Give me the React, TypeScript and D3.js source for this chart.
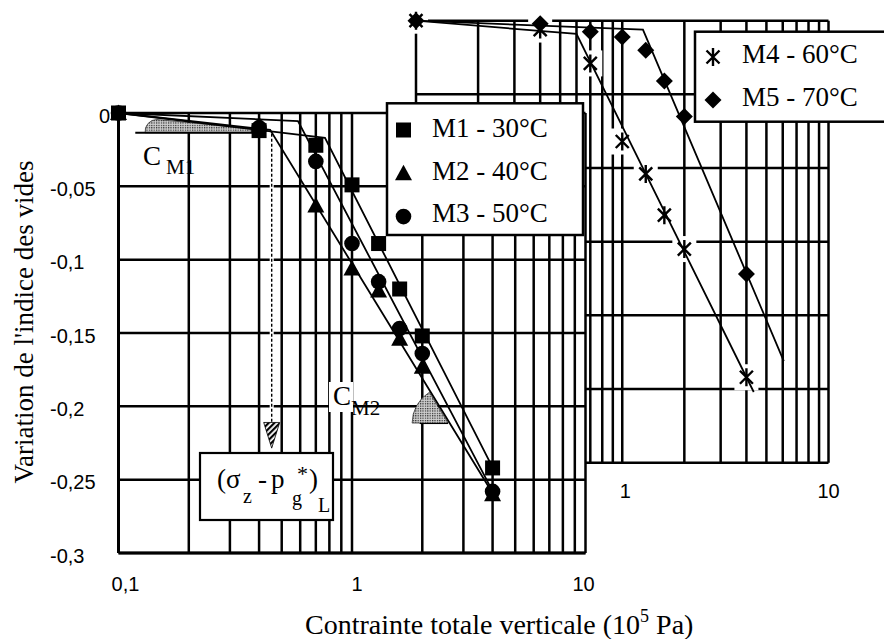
import React from "react";
import * as d3 from "d3";

// load steps (10^5 Pa)
const loads = [0.1, 0.4, 0.7, 1, 1.3, 1.6, 2, 4];
// void ratio variation, main chart
const m1 = [0, -0.012, -0.022, -0.049, -0.089, -0.12, -0.152, -0.242];
const m2 = [0, -0.008, -0.063, -0.106, -0.121, -0.154, -0.173, -0.26];
const m3 = [0, -0.01, -0.033, -0.089, -0.115, -0.147, -0.164, -0.258];
// inset chart
const m4 = [0, -0.006, -0.029, -0.082, -0.104, -0.132, -0.155, -0.242];
const m5 = [0, -0.002, -0.0075, -0.011, -0.02, -0.041, -0.065, -0.172];

// bilinear fits (x, y)
const fitM1x = [0.1, 0.766, 4.1];
const fitM1y = [0, -0.017, -0.245];
const fitM2x = [0.1, 0.446, 4.1];
const fitM2y = [0, -0.0115, -0.262];
const fitM3x = [0.1, 0.587, 4.1];
const fitM3y = [0, -0.0055, -0.261];
const fitM4x = [0.1, 0.6, 4.34];
const fitM4y = [0, -0.009, -0.252];
const fitM5x = [0.1, 1.26, 6.07];
const fitM5y = [0, -0.006, -0.231];

const yTicks = [0, -0.05, -0.1, -0.15, -0.2, -0.25, -0.3];
const yTickLabels = ["0", "-0,05", "-0,1", "-0,15", "-0,2", "-0,25", "-0,3"];
const xTicks = [0.1, 1, 10];
const xTickLabels = ["0,1", "1", "10"];
const insetTicks = [1, 10];
const insetTickLabels = ["1", "10"];
const legendMain = ["M1 - 30°C", "M2 - 40°C", "M3 - 50°C"];
const legendInset = ["M4 - 60°C", "M5 - 70°C"];

const serif = "'Liberation Serif', 'Times New Roman', serif";
const sans = "'Liberation Sans', Arial, sans-serif";

function Marker({ kind, cx, cy }: { kind: string; cx: number; cy: number }) {
  if (kind === "square")
    return <rect x={cx - 7.5} y={cy - 7.5} width={15} height={15} fill="#000" />;
  if (kind === "triangle")
    return <path d={`M${cx},${cy - 8.5}L${cx + 8.5},${cy + 7}L${cx - 8.5},${cy + 7}Z`} fill="#000" />;
  if (kind === "circle") return <circle cx={cx} cy={cy} r={7.8} fill="#000" />;
  if (kind === "diamond")
    return <path d={`M${cx},${cy - 8.5}L${cx + 8.5},${cy}L${cx},${cy + 8.5}L${cx - 8.5},${cy}Z`} fill="#000" />;
  return (
    <path
      d={`M${cx - 6.5},${cy - 6.5}L${cx + 6.5},${cy + 6.5}M${cx - 6.5},${cy + 6.5}L${cx + 6.5},${cy - 6.5}M${cx},${cy - 9}L${cx},${cy + 9}`}
      stroke="#000"
      strokeWidth={2.4}
      fill="none"
    />
  );
}

export default function App() {
  const x = d3.scaleLog().domain([0.1, 10]).range([118.5, 585.5]);
  const y = d3.scaleLinear().domain([-0.3, 0]).range([553, 113]);
  const xi = d3.scaleLog().domain([0.1, 10]).range([416, 828.5]);
  const yi = d3.scaleLinear().domain([-0.3, 0]).range([462.7, 20.7]);

  const path = (sx: any, sy: any, xs: number[], ys: number[]) =>
    d3.line<number>().x((_, i) => sx(xs[i])).y((d) => sy(d))(ys) || "";

  const mainSeries = [
    { vals: m3, kind: "circle" },
    { vals: m2, kind: "triangle" },
    { vals: m1, kind: "square" },
  ];
  const insetSeries = [
    { vals: m5, kind: "diamond" },
    { vals: m4, kind: "asterisk" },
  ];

  const grid = 2.5;

  // C_M2 angle sector at the M2 fit line
  const cm2x = x(2.58);
  const cm2y = y(-0.2114);
  const dx = x(fitM2x[2]) - x(fitM2x[1]);
  const dy = y(fitM2y[2]) - y(fitM2y[1]);
  const len = Math.hypot(dx, dy);
  const r2 = 36;
  const cm2Path = `M${cm2x},${cm2y}L${cm2x - r2},${cm2y}A${r2},${r2} 0 0 1 ${cm2x - (dx / len) * r2},${cm2y - (dy / len) * r2}Z`;

  // C_M1 wedge
  const hY = y(-0.0135);
  const w0 = x(0.118);
  const w1 = x(0.13);
  const w2 = x(0.146);
  const w3 = x(0.384);
  const cm1Path = `M${w1},${hY}A12,12 0 0 1 ${w2},${y(-0.0044)}L${w3},${y(-0.0109)}L${w3},${hY}Z`;

  const arrowX = x(0.453);

  return (
    <svg width={884} height={639} style={{ position: "absolute", left: 0, top: 0, background: "#fff" }}>
      <defs>
        <pattern id="stip" width={2.4} height={2.4} patternUnits="userSpaceOnUse">
          <rect width={2.4} height={2.4} fill="#d0d0d0" />
          <rect width={1.2} height={1.2} fill="#222" />
        </pattern>
        <pattern id="hatch" width={4} height={4} patternUnits="userSpaceOnUse" patternTransform="rotate(45)">
          <rect width={4} height={4} fill="#fff" />
          <rect width={2.2} height={4} fill="#000" />
        </pattern>
      </defs>
      <rect width={884} height={639} fill="#fff" />

      {/* inset chart */}
      <g>
        <rect x={xi(0.1)} y={yi(0)} width={xi(10) - xi(0.1)} height={yi(-0.3) - yi(0)} fill="#fff" />
        {yTicks.map((t) => (
          <line key={"ih" + t} x1={xi(0.1)} x2={xi(10)} y1={yi(t)} y2={yi(t)} stroke="#000" strokeWidth={grid} />
        ))}
        {xi.ticks().map((t) => (
          <line key={"iv" + t} x1={xi(t)} x2={xi(t)} y1={yi(0)} y2={yi(-0.3)} stroke="#000" strokeWidth={grid} />
        ))}
        {insetTicks.map((t, i) => (
          <text key={"il" + t} x={xi(t) + (i === 0 ? 3 : 0)} y={498} textAnchor="middle" fontFamily={sans} fontSize={20}>
            {insetTickLabels[i]}
          </text>
        ))}
        {m4.map((v, i) => (
          <rect key={"halo" + i} x={xi(loads[i]) - 12} y={yi(v) - 13} width={24} height={26} fill="#fff" />
        ))}
        {[
          [fitM4x, fitM4y],
          [fitM5x, fitM5y],
        ].map(([xs, ys], k) => (
          <path key={"if" + k} d={path(xi, yi, xs, ys)} stroke="#000" strokeWidth={1.8} fill="none" />
        ))}
        {insetSeries.map((s) =>
          s.vals.map((v, i) => <Marker key={s.kind + i} kind={s.kind} cx={xi(loads[i])} cy={yi(v)} />)
        )}
        <rect x={695} y={31.7} width={200} height={90} fill="#fff" stroke="#000" strokeWidth={2.5} />
        {legendInset.map((t, i) => (
          <g key={t}>
            <Marker kind={i === 0 ? "asterisk" : "diamond"} cx={713} cy={57 + i * 43} />
            <text x={742} y={63 + i * 43} fontFamily={serif} fontSize={27}>
              {t}
            </text>
          </g>
        ))}
      </g>

      {/* main chart */}
      <rect x={x(0.1)} y={y(0)} width={x(10) - x(0.1)} height={y(-0.3) - y(0)} fill="#fff" />
      {yTicks.map((t) => (
        <line key={"h" + t} x1={x(0.1)} x2={x(10)} y1={y(t)} y2={y(t)} stroke="#000" strokeWidth={grid} />
      ))}
      {x.ticks().map((t) => (
        <line key={"v" + t} x1={x(t)} x2={x(t)} y1={y(0)} y2={y(-0.3)} stroke="#000" strokeWidth={grid} />
      ))}
      <line x1={x(0.1)} x2={x(0.1)} y1={y(0)} y2={y(-0.3)} stroke="#000" strokeWidth={3} />
      <line x1={x(0.1)} x2={x(10)} y1={y(-0.3)} y2={y(-0.3)} stroke="#000" strokeWidth={3} />

      {/* C_M1 slope mark */}
      <path d={cm1Path} fill="url(#stip)" stroke="#000" strokeWidth={0.6} />
      <line x1={w0} x2={w3} y1={hY} y2={hY} stroke="#000" strokeWidth={2} />

      {/* dashed arrow */}
      <line x1={arrowX} x2={arrowX} y1={y(-0.0115) + 4} y2={y(-0.211)} stroke="#fff" strokeWidth={4} />
      <line x1={arrowX} x2={arrowX} y1={y(-0.0115) + 4} y2={y(-0.211)} stroke="#000" strokeWidth={1.4} strokeDasharray="3 2" />
      <path
        d={`M${arrowX - 8},${y(-0.211)}L${arrowX + 8},${y(-0.211)}L${arrowX},${y(-0.2285)}Z`}
        fill="url(#hatch)"
        stroke="#000"
        strokeWidth={0.8}
      />

      {/* C_M2 slope mark */}
      <line x1={x(1.95)} x2={cm2x} y1={cm2y} y2={cm2y} stroke="#000" strokeWidth={2} />
      <path d={cm2Path} fill="url(#stip)" stroke="#000" strokeWidth={0.6} />

      {[
        [fitM1x, fitM1y],
        [fitM2x, fitM2y],
        [fitM3x, fitM3y],
      ].map(([xs, ys], k) => (
        <path key={"f" + k} d={path(x, y, xs, ys)} stroke="#000" strokeWidth={1.8} fill="none" />
      ))}
      {mainSeries.map((s) =>
        s.vals.map((v, i) => <Marker key={s.kind + i} kind={s.kind} cx={x(loads[i])} cy={y(v)} />)
      )}

      {/* main legend */}
      <rect x={387} y={103.3} width={196} height={131.7} fill="#fff" stroke="#000" strokeWidth={2.5} />
      {legendMain.map((t, i) => (
        <g key={t}>
          <Marker kind={["square", "triangle", "circle"][i]} cx={403.5} cy={130 + i * 43.3} />
          <text x={432} y={137 + i * 42.5} fontFamily={serif} fontSize={27}>
            {t}
          </text>
        </g>
      ))}

      {/* labels C_M1, C_M2 */}
      <text x={143} y={165} fontFamily={serif} fontSize={27}>
        C
      </text>
      <text x={166} y={174} fontFamily={serif} fontSize={21}>
        M1
      </text>
      <rect x={329} y={382} width={24} height={30} fill="#fff" />
      <text x={333} y={405} fontFamily={serif} fontSize={27}>
        C
      </text>
      <text x={351} y={415} fontFamily={serif} fontSize={21}>
        M2
      </text>

      {/* (sigma_z - p_g*)_L box */}
      <rect x={200} y={453} width={133} height={67} fill="#fff" stroke="#000" strokeWidth={2.2} />
      <g fontFamily={serif}>
        <text x={217} y={488} fontSize={27}>(σ</text>
        <text x={243} y={503} fontSize={20}>z</text>
        <text x={258} y={488} fontSize={27}>-</text>
        <text x={271} y={488} fontSize={27}>p</text>
        <text x={292} y={505} fontSize={20}>g</text>
        <text x={297} y={481} fontSize={22}>*</text>
        <text x={309} y={488} fontSize={27}>)</text>
        <text x={318} y={512} fontSize={20}>L</text>
      </g>

      {/* axes labels */}
      {yTicks.map((t, i) => (
        <text key={"yl" + t} x={t === 0 ? 99 : 50} y={y(t) + 9.5} fontFamily={sans} fontSize={20}>
          {yTickLabels[i]}
        </text>
      ))}
      {xTicks.map((t, i) => (
        <text key={"xl" + t} x={x(t) + [7, 5, -2][i]} y={591} textAnchor="middle" fontFamily={sans} fontSize={20}>
          {xTickLabels[i]}
        </text>
      ))}
      <text x={305} y={634} fontFamily={serif} fontSize={28}>
        Contrainte totale verticale (10
        <tspan fontSize={18} dy={-12}>
          5
        </tspan>
        <tspan dy={12}> Pa)</tspan>
      </text>
      <text transform="translate(33,322) rotate(-90)" textAnchor="middle" fontFamily={serif} fontSize={27}>
        Variation de l'indice des vides
      </text>
    </svg>
  );
}
